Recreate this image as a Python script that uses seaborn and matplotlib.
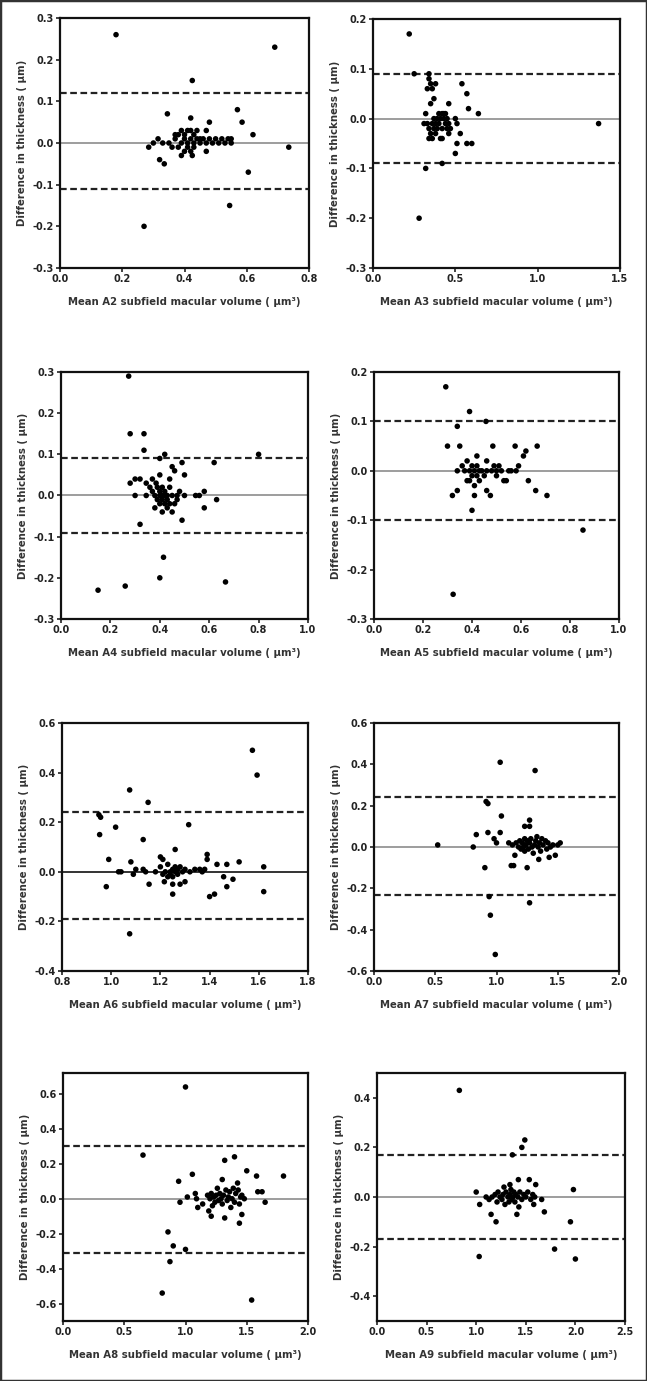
import matplotlib
matplotlib.use("Agg")
import matplotlib.pyplot as plt
import matplotlib.patches as mpatches
from matplotlib.ticker import FormatStrFormatter
import seaborn as sns
import pandas as pd
import numpy as np

# ---------------- data ----------------
a2_mean = [0.18,0.69,0.425,0.345,0.42,0.48,0.57,0.585,0.62,0.735,0.605,0.545,0.27,0.32,0.335,0.285,0.30,0.315,0.39,0.425,0.47,0.47,
           0.33,0.35,0.36,0.37,0.37,0.38,0.38,0.39,0.39,0.40,0.40,0.40,0.41,0.41,0.41,0.42,0.42,0.42,0.43,0.43,0.43,0.44,0.44,0.45,0.45,0.46,0.47,0.48,0.49,0.50,0.51,0.52,0.53,0.54,0.55,0.55]
a2_diff = [0.26,0.23,0.15,0.07,0.06,0.05,0.08,0.05,0.02,-0.01,-0.07,-0.15,-0.20,-0.04,-0.05,-0.01,0.0,0.01,-0.03,-0.03,-0.02,0.03,
           0.0,0.0,-0.01,0.01,0.02,-0.01,0.02,0.03,0.0,0.01,-0.02,0.02,0.0,0.03,-0.01,0.01,-0.02,0.03,0.0,0.02,-0.01,0.01,0.03,0.0,0.01,0.01,0.0,0.01,0.0,0.01,0.0,0.01,0.0,0.01,0.0,0.01]

a3_mean = [0.22,0.25,0.34,0.34,0.35,0.33,0.36,0.38,0.37,0.35,0.32,0.46,0.54,0.57,0.58,0.64,0.50,0.51,0.53,0.51,0.57,0.60,0.50,0.42,0.32,0.28,1.37,
           0.31,0.33,0.34,0.34,0.35,0.36,0.36,0.37,0.37,0.38,0.38,0.39,0.39,0.40,0.40,0.41,0.41,0.42,0.42,0.42,0.43,0.43,0.44,0.44,0.45,0.45,0.46,0.46,0.47]
a3_diff = [0.17,0.09,0.09,0.08,0.07,0.06,0.06,0.07,0.04,0.03,0.01,0.03,0.07,0.05,0.02,0.01,0.0,-0.01,-0.03,-0.05,-0.05,-0.05,-0.07,-0.09,-0.10,-0.20,-0.01,
           -0.01,-0.01,-0.02,-0.04,-0.03,-0.01,-0.04,0.0,-0.02,-0.01,-0.03,0.0,-0.02,0.01,-0.01,0.0,-0.04,0.01,-0.02,-0.04,0.0,0.01,-0.01,0.01,-0.02,0.0,-0.03,-0.01,-0.02]

a4_mean = [0.274,0.28,0.336,0.336,0.42,0.40,0.49,0.62,0.80,0.45,0.46,0.50,0.40,0.28,0.30,0.32,0.345,0.37,0.385,0.44,0.30,0.345,0.38,0.545,0.56,0.58,0.63,0.58,0.38,0.41,0.45,0.49,0.32,0.415,0.40,0.666,0.26,0.15,
           0.36,0.37,0.39,0.39,0.40,0.40,0.40,0.41,0.41,0.41,0.42,0.42,0.42,0.43,0.43,0.44,0.44,0.45,0.46,0.47,0.48,0.50,0.47,0.43]
a4_diff = [0.29,0.15,0.15,0.11,0.10,0.09,0.08,0.08,0.10,0.07,0.06,0.05,0.05,0.03,0.04,0.04,0.03,0.04,0.03,0.04,0.0,0.0,0.0,0.0,0.0,0.01,-0.01,-0.03,-0.03,-0.04,-0.04,-0.06,-0.07,-0.15,-0.20,-0.21,-0.22,-0.23,
           0.02,0.01,0.02,-0.01,0.0,0.01,-0.02,0.02,0.0,-0.01,0.0,-0.02,0.01,0.0,-0.01,0.02,-0.02,0.0,-0.02,0.0,0.01,0.0,-0.01,-0.03]

a5_mean = [0.293,0.39,0.457,0.34,0.30,0.35,0.485,0.576,0.666,0.62,0.61,0.42,0.46,0.38,0.59,0.63,0.53,0.41,0.34,0.66,0.46,0.32,0.41,0.475,0.706,0.40,0.853,0.323,
           0.34,0.36,0.37,0.38,0.39,0.39,0.40,0.40,0.41,0.42,0.42,0.43,0.43,0.44,0.45,0.46,0.48,0.49,0.50,0.50,0.51,0.52,0.54,0.55,0.56,0.58]
a5_diff = [0.17,0.12,0.10,0.09,0.05,0.05,0.05,0.05,0.05,0.04,0.03,0.03,0.02,0.02,0.01,-0.02,-0.02,-0.03,-0.04,-0.04,-0.04,-0.05,-0.05,-0.05,-0.05,-0.08,-0.12,-0.25,
           0.0,0.01,0.0,-0.02,0.0,-0.02,0.01,-0.01,0.0,-0.01,0.01,0.0,-0.02,0.0,-0.01,0.0,0.0,0.01,0.0,-0.01,0.01,0.0,-0.02,0.0,0.0,0.0]

a6_mean = [1.574,1.593,1.075,1.15,0.95,0.957,1.018,0.953,1.13,1.315,1.26,0.99,1.08,1.20,1.21,1.39,1.39,1.52,1.62,1.47,1.43,1.03,1.04,1.09,0.98,1.154,1.216,1.25,1.28,1.30,1.25,1.495,1.457,1.47,1.40,1.42,1.62,1.075,1.10,1.13,1.14,
           1.18,1.20,1.21,1.22,1.23,1.23,1.24,1.24,1.25,1.25,1.26,1.26,1.27,1.27,1.28,1.29,1.30,1.32,1.34,1.36,1.37,1.38]
a6_diff = [0.49,0.39,0.33,0.28,0.23,0.22,0.18,0.15,0.13,0.19,0.09,0.05,0.04,0.06,0.05,0.07,0.05,0.04,0.02,0.03,0.03,0.0,0.0,-0.01,-0.06,-0.05,-0.04,-0.05,-0.05,-0.04,-0.09,-0.03,-0.02,-0.06,-0.10,-0.09,-0.08,-0.25,0.01,0.01,0.0,
           0.0,0.02,-0.01,0.0,-0.02,0.03,0.0,-0.01,0.01,-0.02,0.0,0.02,-0.01,0.01,0.02,0.0,0.01,0.0,0.01,0.01,0.0,0.01]

a7_mean = [1.03,1.315,0.915,0.93,1.04,1.27,1.23,1.27,0.835,0.93,1.03,0.98,1.0,0.52,0.81,0.905,1.12,1.14,1.25,1.345,1.43,1.48,1.15,1.27,0.94,0.95,0.99,
           1.10,1.13,1.16,1.18,1.19,1.20,1.21,1.22,1.23,1.23,1.24,1.25,1.26,1.27,1.28,1.29,1.30,1.31,1.32,1.33,1.34,1.35,1.36,1.37,1.38,1.40,1.41,1.42,1.44,1.46,1.50,1.52]
a7_diff = [0.41,0.37,0.22,0.21,0.15,0.13,0.10,0.10,0.06,0.07,0.07,0.04,0.02,0.01,0.0,-0.10,-0.09,-0.09,-0.10,-0.06,-0.05,-0.04,-0.04,-0.27,-0.24,-0.33,-0.52,
           0.02,0.01,0.02,0.0,0.03,-0.01,0.02,0.0,0.04,-0.02,0.01,0.03,-0.01,0.02,0.04,0.0,-0.03,0.01,0.03,0.05,0.0,0.02,-0.02,0.04,0.01,0.03,-0.01,0.02,0.0,0.01,0.01,0.02]

a8_mean = [1.0,0.653,1.32,1.40,1.50,1.056,1.58,1.80,0.944,1.30,1.425,1.59,1.625,1.65,0.955,1.015,1.08,1.09,1.10,1.14,1.19,1.21,1.32,1.37,1.46,1.44,0.857,0.90,1.0,0.873,0.81,1.54,
           1.18,1.20,1.21,1.22,1.23,1.24,1.25,1.26,1.27,1.28,1.29,1.30,1.31,1.33,1.34,1.35,1.36,1.38,1.39,1.40,1.41,1.43,1.44,1.45,1.46,1.48]
a8_diff = [0.64,0.25,0.22,0.24,0.16,0.14,0.13,0.13,0.10,0.11,0.09,0.04,0.04,-0.02,-0.02,0.01,0.03,0.0,-0.05,-0.03,-0.07,-0.10,-0.11,-0.05,-0.09,-0.14,-0.19,-0.27,-0.29,-0.36,-0.54,-0.58,
           0.02,0.0,0.03,-0.04,0.01,-0.02,0.02,0.06,-0.01,0.03,0.0,-0.03,0.02,0.05,-0.01,0.01,0.04,0.0,0.06,-0.02,0.03,0.05,-0.03,0.01,0.02,0.0]

a9_mean = [0.83,1.49,1.46,1.365,1.98,1.95,2.0,1.79,1.03,1.0,1.035,1.15,1.20,1.41,1.687,1.66,1.60,1.535,1.425,1.34,1.28,1.58,1.43,
           1.10,1.13,1.16,1.19,1.21,1.22,1.24,1.26,1.27,1.29,1.30,1.32,1.33,1.34,1.35,1.36,1.37,1.38,1.39,1.40,1.42,1.44,1.46,1.48,1.50,1.52,1.55,1.57,1.59]
a9_diff = [0.43,0.23,0.20,0.17,0.03,-0.10,-0.25,-0.21,-0.24,0.02,-0.03,-0.07,-0.10,-0.07,-0.06,-0.01,0.05,0.07,0.07,0.05,0.04,-0.03,-0.04,
           0.0,-0.01,0.0,0.01,-0.02,0.02,0.0,-0.01,0.01,-0.03,0.02,0.0,-0.02,0.01,0.03,-0.01,0.0,0.02,-0.02,0.01,0.0,0.02,-0.01,0.01,0.0,0.02,-0.01,0.01,0.0]

subfields = ["A2", "A3", "A4", "A5", "A6", "A7", "A8", "A9"]
means = [a2_mean, a3_mean, a4_mean, a5_mean, a6_mean, a7_mean, a8_mean, a9_mean]
diffs = [a2_diff, a3_diff, a4_diff, a5_diff, a6_diff, a7_diff, a8_diff, a9_diff]
upper_loa = [0.12, 0.09, 0.09, 0.10, 0.24, 0.24, 0.30, 0.17]
lower_loa = [-0.11, -0.09, -0.09, -0.10, -0.19, -0.23, -0.31, -0.17]

x_lims = [(0, 0.8), (0, 1.5), (0, 1.0), (0, 1.0), (0.8, 1.8), (0, 2.0), (0, 2.0), (0, 2.5)]
x_steps = [0.2, 0.5, 0.2, 0.2, 0.2, 0.5, 0.5, 0.5]
y_lims = [(-0.3, 0.3), (-0.3, 0.2), (-0.3, 0.3), (-0.3, 0.2), (-0.4, 0.6), (-0.6, 0.6), (-0.7, 0.72), (-0.5, 0.5)]
y_ticks = [np.arange(-0.3, 0.31, 0.1), np.arange(-0.3, 0.21, 0.1), np.arange(-0.3, 0.31, 0.1), np.arange(-0.3, 0.21, 0.1),
           np.arange(-0.4, 0.61, 0.2), np.arange(-0.6, 0.61, 0.2), np.arange(-0.6, 0.61, 0.2), np.arange(-0.4, 0.41, 0.2)]
mean_line_color = ["#8c8c8c"] * 4 + ["#111111"] + ["#8c8c8c"] * 3

# axes boxes in pixels: left, right, top, bottom
boxes = [(60, 309, 18, 268), (373, 620, 19, 268),
         (61, 308, 372, 619), (374, 619, 372, 619),
         (62, 308, 723, 971), (374, 619, 723, 971),
         (63, 308, 1073, 1321), (377, 625, 1073, 1321)]

# ---------------- style ----------------
sns.set_style("ticks")
plt.rcParams['font.family'] = ['DejaVu Sans']
plt.rcParams['font.weight'] = 'bold'

W, H = 647, 1381
fig = plt.figure(figsize=(W / 100, H / 100), dpi=100)
fig.patch.set_facecolor("white")

for i, name in enumerate(subfields):
    l, r, t, b = boxes[i]
    ax = fig.add_axes([l / W, 1 - b / H, (r - l) / W, (b - t) / H])
    df = pd.DataFrame({"mean": means[i], "diff": diffs[i]})
    ax.axhline(0, color=mean_line_color[i], lw=1.2, zorder=1)
    ax.axhline(upper_loa[i], color="#222222", lw=1.6, ls=(0, (3, 1.6)), zorder=1)
    ax.axhline(lower_loa[i], color="#222222", lw=1.6, ls=(0, (3, 1.6)), zorder=1)
    sns.scatterplot(data=df, x="mean", y="diff", ax=ax, color="black", s=16,
                    edgecolor="none", linewidth=0, zorder=3, legend=False)
    ax.set_xlim(*x_lims[i])
    ax.set_ylim(*y_lims[i])
    xs = np.arange(x_lims[i][0], x_lims[i][1] + 1e-9, x_steps[i])
    ax.set_xticks(xs)
    ax.set_yticks(y_ticks[i])
    ax.xaxis.set_major_formatter(FormatStrFormatter('%.1f'))
    ax.yaxis.set_major_formatter(FormatStrFormatter('%.1f'))
    for sp in ax.spines.values():
        sp.set_visible(True)
        sp.set_linewidth(1.6)
        sp.set_color("#111111")
    ax.tick_params(axis="both", direction="out", length=3, width=1.2, labelsize=7,
                   colors="#222222", pad=1.5)
    for lab in ax.get_xticklabels() + ax.get_yticklabels():
        lab.set_fontweight("bold")
    ax.set_xlabel(f"Mean {name} subfield macular volume ( µm³)", fontsize=7.3,
                  fontweight="bold", color="#333333", labelpad=9)
    ax.set_ylabel("Difference in thickness ( µm)", fontsize=7.3,
                  fontweight="bold", color="#333333", labelpad=4)

fig.patches.append(mpatches.Rectangle((0, 0), 1, 1, transform=fig.transFigure,
                                      fill=False, edgecolor="#333333", lw=2.5))

fig.savefig("out.png", dpi=100, facecolor="white")
